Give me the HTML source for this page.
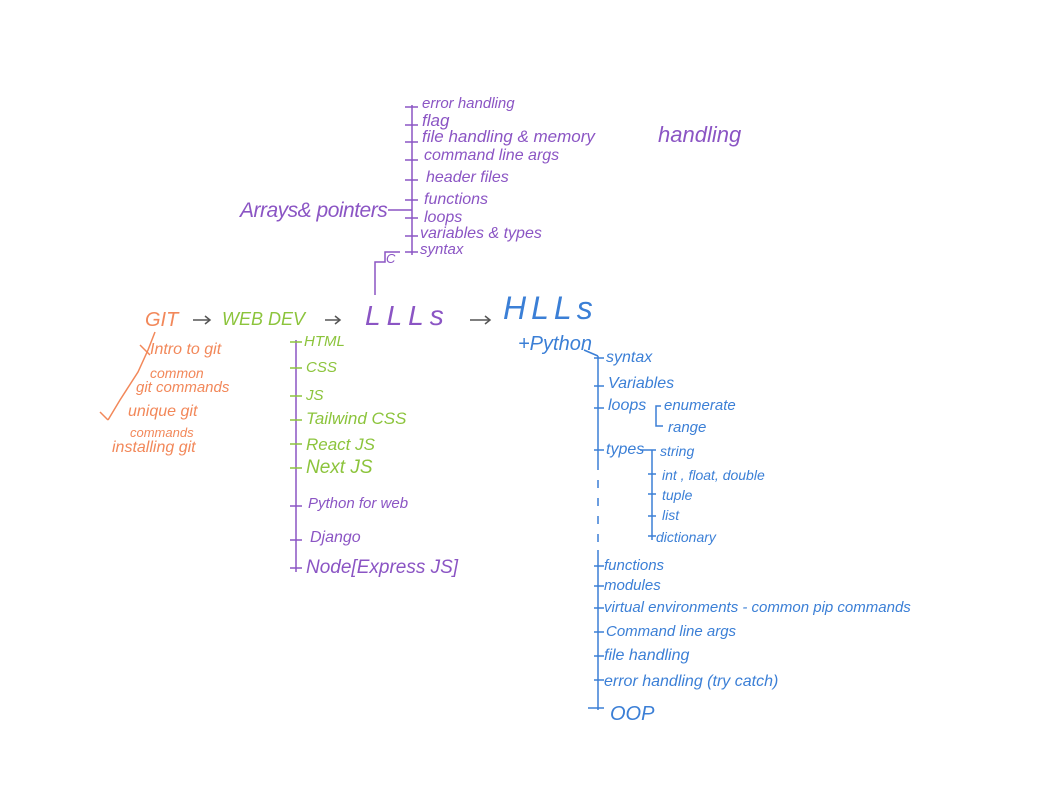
<!DOCTYPE html>
<html><head><meta charset="utf-8"><style>
body{margin:0;width:1059px;height:794px;background:#fff;position:relative;overflow:hidden;font-family:"Liberation Sans",sans-serif;font-style:italic}
.t{position:absolute;white-space:nowrap;line-height:1}
.p{color:#8b55c4}.o{color:#f2885a}.g{color:#8cc43c}.b{color:#3b7fd6}
svg{position:absolute;left:0;top:0}
</style></head><body>
<svg width="1059" height="794" fill="none" stroke-width="1.5">
<g stroke="#8b55c4">
<line x1="412" y1="105" x2="412" y2="255"/>
<line x1="405" y1="107" x2="418" y2="107"/><line x1="405" y1="125" x2="418" y2="125"/>
<line x1="405" y1="142" x2="418" y2="142"/><line x1="405" y1="160" x2="418" y2="160"/>
<line x1="405" y1="180" x2="418" y2="180"/><line x1="405" y1="200" x2="418" y2="200"/>
<line x1="405" y1="218" x2="418" y2="218"/><line x1="405" y1="236" x2="418" y2="236"/>
<line x1="405" y1="252" x2="418" y2="252"/>
<line x1="388" y1="210" x2="412" y2="210"/>
<polyline points="400,252 385,252 385,262 375,262 375,295"/>
<line x1="296" y1="340" x2="296" y2="572"/>
<line x1="290" y1="506" x2="302" y2="506"/><line x1="290" y1="540" x2="302" y2="540"/>
<line x1="290" y1="568" x2="302" y2="568"/>
</g>
<g stroke="#8cc43c">
<line x1="290" y1="342" x2="302" y2="342"/><line x1="290" y1="368" x2="302" y2="368"/>
<line x1="290" y1="396" x2="302" y2="396"/><line x1="290" y1="420" x2="302" y2="420"/>
<line x1="290" y1="444" x2="302" y2="444"/><line x1="290" y1="468" x2="302" y2="468"/>
</g>
<g stroke="#f2885a">
<polyline points="155,332 148,350 138,372 120,400 108,420"/>
<line x1="140" y1="345" x2="150" y2="355"/><line x1="100" y1="412" x2="108" y2="420"/>
</g>
<g stroke="#3b7fd6">
<line x1="598" y1="356" x2="598" y2="462"/>
<line x1="598" y1="462" x2="598" y2="550" stroke-dasharray="8,10"/>
<line x1="598" y1="550" x2="598" y2="710"/>
<line x1="594" y1="358" x2="604" y2="358"/><line x1="594" y1="386" x2="604" y2="386"/>
<line x1="594" y1="408" x2="604" y2="408"/><line x1="594" y1="450" x2="604" y2="450"/>
<line x1="594" y1="566" x2="604" y2="566"/><line x1="594" y1="586" x2="604" y2="586"/>
<line x1="594" y1="608" x2="604" y2="608"/><line x1="594" y1="632" x2="604" y2="632"/>
<line x1="594" y1="656" x2="604" y2="656"/><line x1="594" y1="680" x2="604" y2="680"/>
<line x1="588" y1="708" x2="604" y2="708"/>
<line x1="584" y1="350" x2="598" y2="356"/>
<polyline points="661,406 656,406 656,426 663,426"/>
<line x1="652" y1="450" x2="652" y2="540"/>
<line x1="648" y1="474" x2="656" y2="474"/><line x1="648" y1="494" x2="656" y2="494"/>
<line x1="648" y1="516" x2="656" y2="516"/><line x1="648" y1="536" x2="656" y2="536"/>
<line x1="640" y1="450" x2="656" y2="450"/>
</g>
<g stroke="#555">
<line x1="193" y1="320" x2="210" y2="320"/><polyline points="205,316 210,320 205,324"/>
<line x1="325" y1="320" x2="340" y2="320"/><polyline points="335,316 340,320 335,324"/>
<line x1="470" y1="320" x2="490" y2="320"/><polyline points="485,316 490,320 485,324"/>
</g>
</svg>
<div class="t p" style="left:422px;top:96px;font-size:15px">error handling</div>
<div class="t p" style="left:422px;top:112px;font-size:17px">flag</div>
<div class="t p" style="left:422px;top:128px;font-size:17px">file handling &amp; memory</div>
<div class="t p" style="left:658px;top:124px;font-size:22px">handling</div>
<div class="t p" style="left:424px;top:148px;font-size:16px">command line args</div>
<div class="t p" style="left:426px;top:170px;font-size:16px">header files</div>
<div class="t p" style="left:424px;top:192px;font-size:16px">functions</div>
<div class="t p" style="left:424px;top:210px;font-size:16px">loops</div>
<div class="t p" style="left:420px;top:226px;font-size:16px">variables &amp; types</div>
<div class="t p" style="left:420px;top:242px;font-size:15px">syntax</div>
<div class="t p" style="left:386px;top:252px;font-size:13px">C</div>
<div class="t p" style="left:240px;top:200px;font-size:21px;letter-spacing:-0.5px">Arrays&amp; pointers</div>
<div class="t o" style="left:145px;top:310px;font-size:20px">GIT</div>
<div class="t g" style="left:222px;top:310px;font-size:18px">WEB DEV</div>
<div class="t p" style="left:365px;top:302px;font-size:28px;letter-spacing:6px">LLLs</div>
<div class="t b" style="left:503px;top:292px;font-size:32px;letter-spacing:5px">HLLs</div>
<div class="t o" style="left:150px;top:342px;font-size:16px">Intro to git</div>
<div class="t o" style="left:150px;top:366px;font-size:14px">common</div>
<div class="t o" style="left:136px;top:380px;font-size:15px">git commands</div>
<div class="t o" style="left:128px;top:404px;font-size:16px">unique git</div>
<div class="t o" style="left:130px;top:426px;font-size:13px">commands</div>
<div class="t o" style="left:112px;top:440px;font-size:16px">installing git</div>
<div class="t g" style="left:304px;top:334px;font-size:15px">HTML</div>
<div class="t g" style="left:306px;top:360px;font-size:15px">CSS</div>
<div class="t g" style="left:306px;top:388px;font-size:15px">JS</div>
<div class="t g" style="left:306px;top:410px;font-size:17px">Tailwind CSS</div>
<div class="t g" style="left:306px;top:436px;font-size:17px">React JS</div>
<div class="t g" style="left:306px;top:458px;font-size:19px">Next JS</div>
<div class="t p" style="left:308px;top:496px;font-size:15px">Python for web</div>
<div class="t p" style="left:310px;top:530px;font-size:16px">Django</div>
<div class="t p" style="left:306px;top:558px;font-size:19px">Node[Express JS]</div>
<div class="t b" style="left:518px;top:334px;font-size:20px">+Python</div>
<div class="t b" style="left:606px;top:350px;font-size:16px">syntax</div>
<div class="t b" style="left:608px;top:376px;font-size:16px">Variables</div>
<div class="t b" style="left:608px;top:398px;font-size:16px">loops</div>
<div class="t b" style="left:664px;top:398px;font-size:15px">enumerate</div>
<div class="t b" style="left:668px;top:420px;font-size:15px">range</div>
<div class="t b" style="left:606px;top:442px;font-size:16px">types</div>
<div class="t b" style="left:660px;top:444px;font-size:14px">string</div>
<div class="t b" style="left:662px;top:468px;font-size:14px">int , float, double</div>
<div class="t b" style="left:662px;top:488px;font-size:14px">tuple</div>
<div class="t b" style="left:662px;top:508px;font-size:14px">list</div>
<div class="t b" style="left:656px;top:530px;font-size:14px">dictionary</div>
<div class="t b" style="left:604px;top:558px;font-size:15px">functions</div>
<div class="t b" style="left:604px;top:578px;font-size:15px">modules</div>
<div class="t b" style="left:604px;top:600px;font-size:15px">virtual environments - common pip commands</div>
<div class="t b" style="left:606px;top:624px;font-size:15px">Command line args</div>
<div class="t b" style="left:604px;top:648px;font-size:16px">file handling</div>
<div class="t b" style="left:604px;top:674px;font-size:16px">error handling (try catch)</div>
<div class="t b" style="left:610px;top:704px;font-size:20px">OOP</div>
</body></html>
